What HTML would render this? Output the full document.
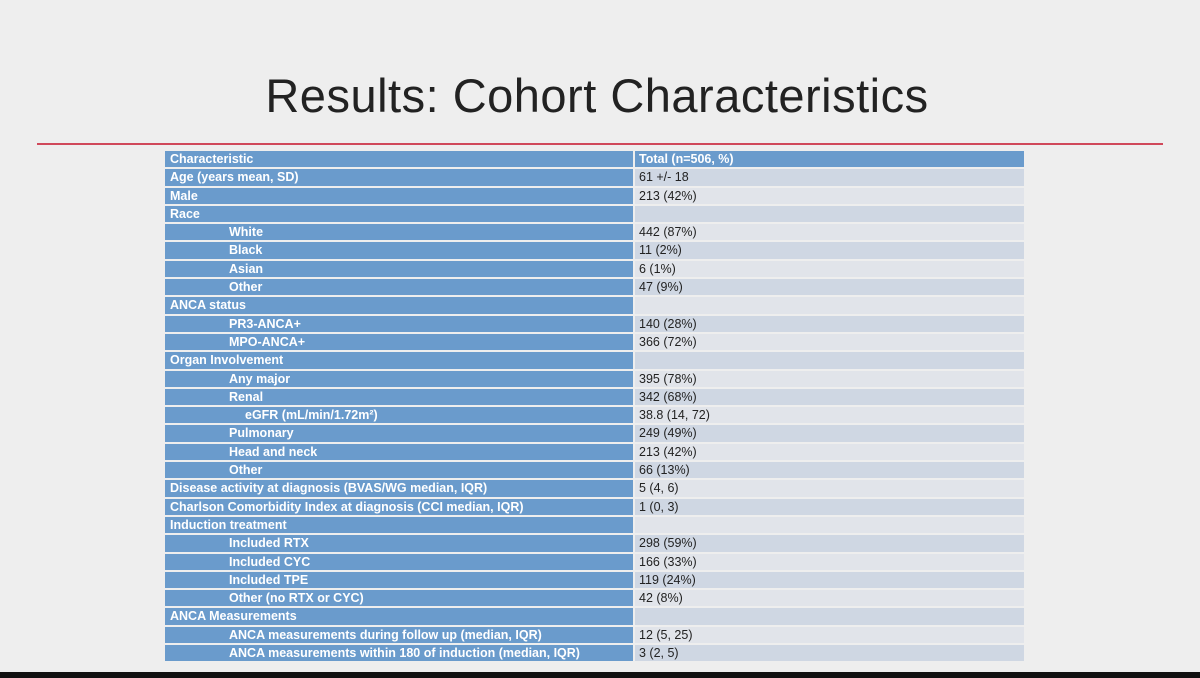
<!DOCTYPE html>
<html><head><meta charset="utf-8"><style>
body{margin:0;width:1200px;height:678px;background:#eeeeee;position:relative;overflow:hidden;font-family:"Liberation Sans",sans-serif}
#title{position:absolute;left:0;width:1194px;top:68px;text-align:center;font-size:47px;color:#222;letter-spacing:0.5px}
#rule{position:absolute;left:37px;width:1126px;top:143px;height:2px;background:#d0485a}
#tbl{position:absolute;left:165px;top:151px;width:859px}
.row{height:16.3px;margin-bottom:2px;display:flex;font-size:12.5px;line-height:16.3px}
.l{width:468px;background:#6a9bcc;color:#fff;font-weight:bold;padding-left:5px;box-sizing:border-box;margin-right:2px;white-space:nowrap;overflow:hidden}
.r{flex:1;color:#222;padding-left:4px}
.a .r{background:#cfd7e3}.b .r{background:#e1e4ea}
.hd .r{background:#6a9bcc;color:#fff;font-weight:bold}
.i1{padding-left:64px}.i2{padding-left:80px}
#bot{position:absolute;left:0;top:672px;width:1200px;height:6px;background:#111}
</style></head><body>
<div id="title">Results: Cohort Characteristics</div>
<div id="rule"></div>
<div id="tbl"></div>
<div id="bot"></div>
<script>
const labels=["Characteristic","Age (years mean, SD)","Male","Race","White","Black","Asian","Other","ANCA status","PR3-ANCA+","MPO-ANCA+","Organ Involvement","Any major","Renal","eGFR (mL/min/1.72m²)","Pulmonary","Head and neck","Other","Disease activity at diagnosis (BVAS/WG median, IQR)","Charlson Comorbidity Index at diagnosis (CCI median, IQR)","Induction treatment","Included RTX","Included CYC","Included TPE","Other (no RTX or CYC)","ANCA Measurements","ANCA measurements during follow up (median, IQR)","ANCA measurements within 180 of induction (median, IQR)"];
const values=["Total (n=506, %)","61 +/- 18","213 (42%)","","442 (87%)","11 (2%)","6 (1%)","47 (9%)","","140 (28%)","366 (72%)","","395 (78%)","342 (68%)","38.8 (14, 72)","249 (49%)","213 (42%)","66 (13%)","5 (4, 6)","1 (0, 3)","","298 (59%)","166 (33%)","119 (24%)","42 (8%)","","12 (5, 25)","3 (2, 5)"];
const indent=[0,0,0,0,1,1,1,1,0,1,1,0,1,1,2,1,1,1,0,0,0,1,1,1,1,0,1,1];
const tbl=document.getElementById('tbl');
labels.forEach((t,i)=>{
const row=document.createElement('div');
row.className='row '+(i===0?'hd':(i%2?'a':'b'));


const l=document.createElement('div');
l.className='l'+(indent[i]===1?' i1':indent[i]===2?' i2':'');


l.textContent=t;
const r=document.createElement('div');
r.className='r';


r.textContent=values[i];
row.appendChild(l);row.appendChild(r);tbl.appendChild(row);
});
</script>
</body></html>
